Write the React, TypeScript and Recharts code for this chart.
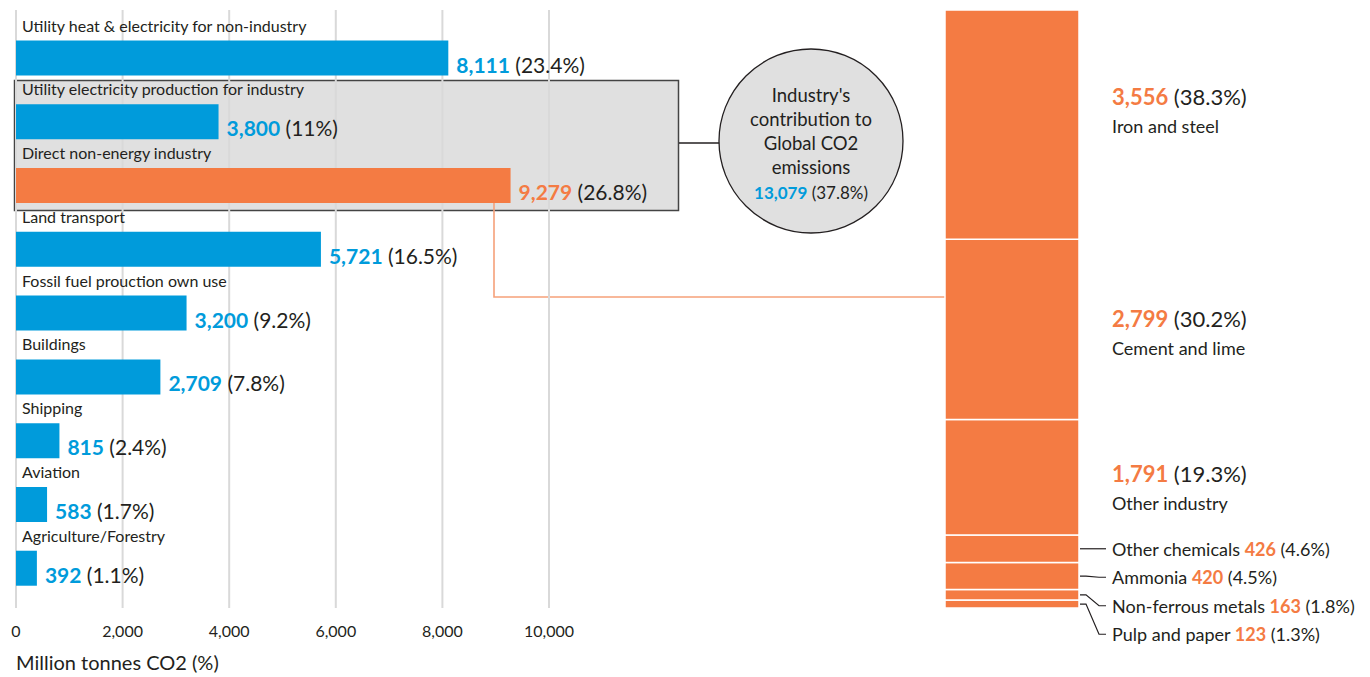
import React from 'react';
import { BarChart, Bar, XAxis, YAxis, CartesianGrid, Cell, LabelList } from 'recharts';

const FONT = 'Lato, "Open Sans", sans-serif';
const BLUE = '#009bdb';
const ORANGE = '#f47b43';
const LIGHT_ORANGE = '#f6a17a';
const TEXT = '#231f20';
const BOX = '#e0e0e0';

// ---- Left chart data: global CO2 emissions by sector (million tonnes) ----
const sectors = [
  'Utility heat & electricity for non-industry',
  'Utility electricity production for industry',
  'Direct non-energy industry',
  'Land transport',
  'Fossil fuel prouction own use',
  'Buildings',
  'Shipping',
  'Aviation',
  'Agriculture/Forestry',
];
const sectorValues = [8111, 3800, 9279, 5721, 3200, 2709, 815, 583, 392];
const sectorShares = ['23.4%', '11%', '26.8%', '16.5%', '9.2%', '7.8%', '2.4%', '1.7%', '1.1%'];
const highlightIndex = 2;
const xTicks = [0, 2000, 4000, 6000, 8000, 10000];

// ---- Right chart data: breakdown of direct industry emissions ----
const industryNames = [
  'Iron and steel',
  'Cement and lime',
  'Other industry',
  'Other chemicals',
  'Ammonia',
  'Non-ferrous metals',
  'Pulp and paper',
];
const industryValues = [3556, 2799, 1791, 426, 420, 163, 123];
const industryShares = ['38.3%', '30.2%', '19.3%', '4.6%', '4.5%', '1.8%', '1.3%'];

// ---- Circle callout ----
const calloutLines = ["Industry's", 'contribution to', 'Global CO2', 'emissions'];
const calloutValue = 13079;
const calloutShare = '37.8%';
const axisTitle = 'Million tonnes CO2 (%)';

const fmt = (v: number) => v.toLocaleString('en-US');

const sectorData = sectors.map((name, i) => ({ name, value: sectorValues[i], share: sectorShares[i] }));

const industryRow: Record<string, any> = { name: 'Direct non-energy industry' };
industryValues.forEach((v, i) => {
  industryRow['s' + i] = v;
});
const industryData = [industryRow];
const industryTotal = industryValues.reduce((a, b) => a + b, 0);

const bigLabelDy = [-20, -2, 5];
const SMALL_GAP = 28.5;

const XTick = (props: any) => {
  const { x, y, payload } = props;
  return (
    <text x={x} y={y + 29} textAnchor="middle" fontSize={16} fill={TEXT} fontFamily={FONT}>
      {fmt(payload.value)}
    </text>
  );
};

const SectorLabel = (props: any) => {
  const { x, y, width, height, index } = props;
  const d = sectorData[index];
  if (!d) return null;
  const color = index === highlightIndex ? ORANGE : BLUE;
  return (
    <g>
      <text x={x + 6} y={y - 9} fontSize={16} fill={TEXT} fontFamily={FONT}>
        {d.name}
      </text>
      <text x={x + width + 8} y={y + height - 3} fontSize={21} fontFamily={FONT} style={{ whiteSpace: 'pre' }}>
        <tspan fill={color} fontWeight={700}>{fmt(d.value)}</tspan>
        <tspan fill={TEXT}>{' (' + d.share + ')'}</tspan>
      </text>
    </g>
  );
};

const makeIndustryLabel = (i: number) => (props: any) => {
  const { x, y, width, height } = props;
  const pxPerUnit = height / industryValues[i];
  const above = industryValues.slice(0, i).reduce((a, b) => a + b, 0);
  const top0 = y - above * pxPerUnit;
  const centers = industryValues.map(
    (v, k) => top0 + (industryValues.slice(0, k).reduce((a, b) => a + b, 0) + v / 2) * pxPerUnit
  );
  const xr = x + width;
  if (i < 3) {
    const cy = centers[i] + bigLabelDy[i];
    return (
      <g fontFamily={FONT}>
        <text x={xr + 33} y={cy} fontSize={22} style={{ whiteSpace: 'pre' }}>
          <tspan fill={ORANGE} fontWeight={700}>{fmt(industryValues[i])}</tspan>
          <tspan fill={TEXT}>{' (' + industryShares[i] + ')'}</tspan>
        </text>
        <text x={xr + 33} y={cy + 28} fontSize={18} fill={TEXT}>
          {industryNames[i]}
        </text>
      </g>
    );
  }
  let ly = 0;
  for (let k = 3; k <= i; k++) {
    ly = k === 3 ? centers[3] : Math.max(centers[k], ly + SMALL_GAP);
  }
  const c = centers[i];
  const path =
    Math.abs(ly - c) < 0.5
      ? `M${xr + 1},${c} H${xr + 27}`
      : `M${xr + 1},${c} H${xr + 7} L${xr + 20},${ly} H${xr + 27}`;
  return (
    <g fontFamily={FONT}>
      <path d={path} stroke={TEXT} strokeWidth={1.2} fill="none" />
      <text x={xr + 33} y={ly + 7} fontSize={18} style={{ whiteSpace: 'pre' }}>
        <tspan fill={TEXT}>{industryNames[i] + ' '}</tspan>
        <tspan fill={ORANGE} fontWeight={700}>{fmt(industryValues[i])}</tspan>
        <tspan fill={TEXT}>{' (' + industryShares[i] + ')'}</tspan>
      </text>
    </g>
  );
};

const bottomToTop = industryValues.map((_, i) => i).reverse();

export default function App() {
  return (
    <div
      style={{
        position: 'absolute',
        left: 0,
        top: 0,
        width: 1370,
        height: 677,
        background: '#fff',
        fontFamily: FONT,
        overflow: 'hidden',
      }}
    >
      {/* Annotation layer (below the charts) */}
      <svg width={1370} height={677} style={{ position: 'absolute', left: 0, top: 0 }}>
        <rect x={14.5} y={80.5} width={664} height={130} fill={BOX} stroke="#444" strokeWidth={1.5} />
        <line x1={679} y1={143} x2={720} y2={143} stroke={TEXT} strokeWidth={1.5} />
        <path d="M494,203 V297 H945" stroke={LIGHT_ORANGE} strokeWidth={1.6} fill="none" />
        <circle cx={811} cy={141} r={92} fill={BOX} stroke={TEXT} strokeWidth={1.3} />
        {calloutLines.map((t, i) => (
          <text key={t} x={811} y={102 + i * 24} textAnchor="middle" fontSize={18.5} fill={TEXT} fontFamily={FONT}>
            {t}
          </text>
        ))}
        <text x={811} y={199} textAnchor="middle" fontSize={17} fontFamily={FONT} style={{ whiteSpace: 'pre' }}>
          <tspan fill={BLUE} fontWeight={700}>{fmt(calloutValue)}</tspan>
          <tspan fill={TEXT}>{' (' + calloutShare + ')'}</tspan>
        </text>
        <text x={16} y={670} fontSize={20} fill={TEXT} fontFamily={FONT}>
          {axisTitle}
        </text>
      </svg>

      {/* Left: emissions by sector */}
      <div style={{ position: 'absolute', left: 0, top: 0 }}>
        <BarChart
          width={700}
          height={677}
          data={sectorData}
          layout="vertical"
          margin={{ top: 10, right: 151, bottom: 29, left: 16 }}
          barSize={35}
        >
          <CartesianGrid horizontal={false} vertical stroke="#d9d9d9" strokeWidth={2} />
          <XAxis
            type="number"
            domain={[0, 10000]}
            ticks={xTicks}
            interval={0}
            axisLine={false}
            tickLine={false}
            tickSize={0}
            tickMargin={0}
            height={40}
            tick={<XTick />}
          />
          <YAxis type="category" dataKey="name" hide padding={{ top: 16.5, bottom: 7.5 }} />
          <Bar dataKey="value" isAnimationActive={false}>
            {sectorData.map((d, i) => (
              <Cell key={d.name} fill={i === highlightIndex ? ORANGE : BLUE} />
            ))}
            <LabelList dataKey="value" content={<SectorLabel />} />
          </Bar>
        </BarChart>
      </div>

      {/* Right: breakdown of direct industry emissions */}
      <div style={{ position: 'absolute', left: 940, top: 0 }}>
        <BarChart
          width={430}
          height={677}
          data={industryData}
          margin={{ top: 10, right: 291, bottom: 69, left: 5 }}
          barCategoryGap={0}
          barGap={0}
        >
          <XAxis dataKey="name" type="category" hide />
          <YAxis type="number" domain={[0, industryTotal]} hide />
          {bottomToTop.map((i) => (
            <Bar
              key={'s' + i}
              dataKey={'s' + i}
              stackId="a"
              fill={ORANGE}
              stroke="#fff"
              strokeWidth={1.5}
              isAnimationActive={false}
            >
              <LabelList dataKey={'s' + i} content={makeIndustryLabel(i)} />
            </Bar>
          ))}
        </BarChart>
      </div>
    </div>
  );
}
